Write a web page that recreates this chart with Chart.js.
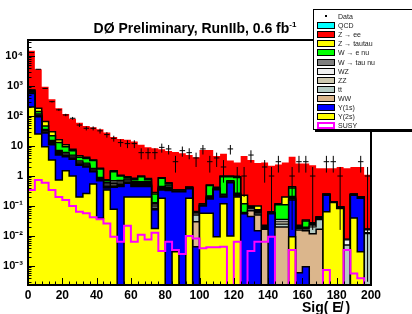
<!DOCTYPE html>
<html lang="en">
<head>
  <meta charset="UTF-8">
  <title>Sig(MET) - DØ Preliminary</title>
  <script src="https://cdn.jsdelivr.net/npm/chart.js"></script>
  <style>
    body {
      margin: 0;
      background: #fff;
      font-family: 'Liberation Sans', Arial, Helvetica, sans-serif;
    }
    .wrap {
      position: relative;
      width: 412px;
      height: 314px;
      overflow: hidden;
    }
    #title {
      position: absolute;
      left: 0;
      width: 390px;
      top: 20px;
      text-align: center;
      font-weight: bold;
      font-size: 14px;
      color: #000;
    }
    #title sup { font-size: 8px; }
    #xtitle {
      position: absolute;
      left: 302px;
      top: 299px;
      font-weight: bold;
      font-size: 14px;
    }
    #legend {
      position: absolute;
      left: 313px;
      top: 9px;
      width: 120px;
      height: 119px;
      background: #fff;
      border: 1px solid #000;
      box-shadow: 2px 2px 0 #000;
    }
    #legend .row {
      position: absolute;
      left: 0;
      height: 9px;
      width: 100%;
    }
    #legend .sw {
      position: absolute;
      left: 3px;
      top: 1px;
      width: 16px;
      height: 5px;
      border: 1px solid #000;
    }
    #legend .dot {
      position: absolute;
      left: 11px;
      top: 3px;
      width: 2px;
      height: 2px;
      background: #000;
    }
    #legend .txt {
      position: absolute;
      left: 24px;
      top: 0;
      font-size: 7px;
      line-height: 9px;
      color: #222;
      white-space: nowrap;
    }
  </style>
</head>
<body>
  <div class="wrap">
    <canvas id="sigChart" width="412" height="314"></canvas>
    <div id="title">DØ Preliminary, RunIIb, 0.6 fb<sup>-1</sup></div>
    <div id="xtitle">Sig( E&#x338; )</div>
    <div id="legend"></div>
  </div>

  <script>
    // bin lower edges (width 4)
    const binLo = [0, 4, 8, 12, 16, 20, 24, 28, 32, 36,
      40, 44, 48, 52, 56, 60, 64, 68, 72, 76,
      80, 84, 88, 92, 96, 100, 104, 108, 112, 116,
      120, 124, 128, 132, 136, 140, 144, 148, 152, 156,
      160, 164, 168, 172, 176, 180, 184, 188, 192, 196];

    // stack tops (cumulative, bottom layer first)
    const y2sTop = [200, 25, 9.5, 3.4, 0.74, 1.5, 1.0, 0.2, 0.26, 0.54,
      0.039, 0.34, 0.078, 0, 0.2, 0.2, 0.2, 0.2, 0.018, 0.18,
      0, 0.003, 0, 0.18, 0, 0.057, 0.057, 0.0095, 0.12, 0.01,
      0.2, 0, 0, 0, 0, 0, 0, 0, 0.0095, 0,
      0, 0, 0, 0.065, 0.13, 0.083, 0, 0.04, 0.003, 0];
    const y1sTop = [560, 95, 27, 11, 5, 4.4, 3.6, 2.3, 2.0, 1.4,
      0.7, 0.4, 0.42, 0.45, 0.57, 0.45, 0.45, 0.45, 0.075, 0.34,
      0.33, 0.3, 0.3, 0.38, 0.0044, 0.1, 0.17, 0.35, 0.2, 0.6,
      0.22, 0.055, 0.045, 0.015, 0, 0.055, 0, 0, 0.16, 0.0006,
      0.00095, 0, 0, 0.23, 0.13, 0.09, 0, 0.23, 0.18, 0];
    const wwTop = [575, 98, 28, 11.5, 5.3, 4.6, 3.8, 2.4, 2.1, 1.45,
      0.73, 0.42, 0.45, 0.48, 0.6, 0.48, 0.48, 0.48, 0.085, 0.36,
      0.35, 0.31, 0.31, 0.39, 0.03, 0.103, 0.18, 0.36, 0.21, 0.62,
      0.23, 0.057, 0.07, 0.05, 0.017, 0.057, 0.02, 0.02, 0.17, 0.016,
      0.015, 0.012, 0.017, 0.235, 0.133, 0.092, 0, 0.235, 0.185, 0];
    const ttTop = [590, 101, 29, 12, 5.6, 4.8, 4.0, 2.55, 2.2, 1.5,
      0.76, 0.45, 0.5, 0.53, 0.64, 0.52, 0.52, 0.52, 0.1, 0.38,
      0.38, 0.32, 0.32, 0.4, 0.05, 0.106, 0.19, 0.37, 0.22, 0.64,
      0.24, 0.059, 0.08, 0.055, 0.018, 0.059, 0.025, 0.025, 0.18, 0.018,
      0.017, 0.02, 0.035, 0.24, 0.135, 0.093, 0.005, 0.24, 0.19, 0.012];
    const zzTop = [610, 105, 31, 13, 6.0, 5.1, 4.3, 2.7, 2.35, 1.6,
      0.8, 0.5, 0.56, 0.58, 0.69, 0.56, 0.56, 0.56, 0.11, 0.4,
      0.42, 0.325, 0.325, 0.405, 0.055, 0.11, 0.2, 0.38, 0.23, 0.66,
      0.25, 0.06, 0.085, 0.06, 0.019, 0.06, 0.03, 0.03, 0.19, 0.019,
      0.018, 0.022, 0.038, 0.243, 0.137, 0.094, 0.005, 0.243, 0.193, 0.013];
    const wzTop = [630, 110, 33, 14, 6.5, 5.5, 4.6, 2.9, 2.5, 1.7,
      0.84, 0.55, 0.62, 0.64, 0.74, 0.6, 0.6, 0.6, 0.12, 0.42,
      0.46, 0.33, 0.33, 0.41, 0.06, 0.113, 0.21, 0.39, 0.24, 0.68,
      0.26, 0.061, 0.09, 0.065, 0.02, 0.061, 0.035, 0.035, 0.2, 0.02,
      0.019, 0.024, 0.04, 0.245, 0.138, 0.094, 0.0075, 0.245, 0.195, 0.016];
    const wtaunuTop = [660, 118, 36, 15.5, 7.2, 6.1, 5.0, 3.2, 2.7, 1.8,
      0.9, 0.6, 0.7, 0.72, 0.8, 0.65, 0.65, 0.65, 0.13, 0.45,
      0.5, 0.335, 0.335, 0.415, 0.062, 0.115, 0.22, 0.4, 0.25, 0.7,
      0.27, 0.062, 0.095, 0.07, 0.021, 0.062, 0.036, 0.036, 0.21, 0.021,
      0.02, 0.026, 0.042, 0.247, 0.139, 0.094, 0.0077, 0.247, 0.197, 0.017];
    const wenuTop = [700, 140, 46, 22, 13, 9.5, 7.0, 4.2, 3.8, 3.3,
      1.7, 0.7, 1.4, 1.0, 0.9, 0.75, 0.95, 0.75, 0.25, 0.85,
      0.55, 0.34, 0.34, 0.42, 0.064, 0.118, 0.48, 0.41, 0.95, 0.95,
      0.9, 0.12, 0.097, 0.075, 0.022, 0.064, 0.11, 0.11, 0.4, 0.022,
      0.032, 0.027, 0.043, 0.249, 0.14, 0.095, 0.0077, 0.249, 0.199, 0.017];
    const ztautauTop = [740, 180, 65, 30, 16, 11, 7.8, 4.7, 4.2, 3.4,
      1.8, 0.75, 1.5, 1.07, 0.95, 0.85, 1.0, 0.83, 0.28, 0.88,
      0.6, 0.345, 0.345, 0.43, 0.066, 0.12, 0.5, 0.42, 1.0, 1.0,
      0.95, 0.23, 0.1, 0.1, 0.023, 0.065, 0.12, 0.2, 0.44, 0.023,
      0.034, 0.028, 0.044, 0.25, 0.14, 0.095, 0.0077, 0.25, 0.2, 0.017];
    const zeeTop = [15000, 3600, 950, 360, 180, 117, 81, 60, 46, 42,
      36, 28, 20, 17, 16, 14, 11, 9, 8.4, 7.8,
      6.8, 6.3, 5.7, 5.0, 4.2, 7.4, 7.4, 4.6, 5.5, 3.3,
      2.8, 4.6, 3.4, 2.7, 2.8, 2.2, 2.4, 2.8, 4.4, 2.6,
      2.6, 2.3, 1.8, 1.8, 1.8, 2.0, 1.8, 2.0, 2.0, 1.1];

    const susy = [0.34, 0.74, 0.6, 0.34, 0.2, 0.16, 0.1, 0.065, 0.057, 0.042,
      0.036, 0.026, 0.0095, 0.0065, 0.022, 0.0065, 0.011, 0.0077, 0.013, 0.0032,
      0.0065, 0.0034, 0.0025, 0.01, 0.0083, 0.0039, 0.0042, 0.0042, 0.0044, 0,
      0.0065, 0, 0.0032, 0.0065, 0.0065, 0.0095, 0, 0, 0.0034, 0,
      0, 0, 0, 0.00074, 0, 0, 0.0034, 0.00057, 0.00039, 0];

    const dataCounts = [13000, 3600, 830, 300, 160, 108, 84, 50, 39, 39,
      32, 24, 18, 13, 12, 12, 6, 6, 6, 9,
      8, 3, 7, 6, 4, 8, 3, 4, 2, 8,
      1, 1, 5, 0, 2, 1, 3, 0, 1, 3,
      3, 1, 0, 3, 3, 1, 0, 0, 3, 1];
    const dataLo = [12880, 3540, 800, 283, 147, 98, 75, 43, 33, 33,
      26, 19, 14, 9.4, 8.5, 8.5, 3.6, 3.6, 3.6, 6,
      5.2, 1.3, 4.4, 3.6, 2, 5.2, 1.3, 2, 0.6, 5.2,
      0.2, 0.2, 2.8, null, 0.6, 0.06, 1.3, null, 0.016, 1.3,
      1.3, 0.016, null, 1.3, 1.3, 0.016, null, null, 1.3, 0.0003];
    const dataHi = [13120, 3660, 860, 317, 173, 118, 93, 57, 45, 45,
      38, 29, 22, 16.6, 15.5, 15.5, 8.4, 8.4, 8.4, 12,
      10.8, 4.7, 9.6, 8.4, 6, 10.8, 4.7, 6, 3.4, 10.8,
      2, 2, 7.2, null, 3.4, 2, 4.7, null, 2, 4.7,
      4.7, 2, null, 4.7, 4.7, 2, null, null, 4.7, 2];

    const yTickLabels = { 4: '10⁴', 3: '10³', 2: '10²', 1: '10', 0: '1', '-1': '10⁻¹', '-2': '10⁻²', '-3': '10⁻³' };

    const Y_MIN = 2.34e-4, Y_MAX = 3.4e4;
    const BIN_W = 4;

    // stepped histogram outline from bin values
    function steps(vals) {
      const pts = binLo.map((x, i) => ({ x: x, y: vals[i] > 0 ? vals[i] : Y_MIN }));
      pts.push({ x: binLo[binLo.length - 1] + BIN_W, y: pts[pts.length - 1].y });
      return pts;
    }

    // data crosses: bin-width bar + error bar, separated by gaps
    const dataPts = [];
    binLo.forEach((x, i) => {
      if (!dataCounts[i]) return;
      const c = x + BIN_W / 2;
      dataPts.push({ x: x + 0.4, y: dataCounts[i] }, { x: x + BIN_W - 0.4, y: dataCounts[i] }, { x: c, y: null });
      dataPts.push({ x: c, y: dataLo[i] }, { x: c, y: dataHi[i] }, { x: c, y: null });
    });

    const layers = [
      { label: 'Z → ee', top: zeeTop, color: '#ff0000', bw: 0 },
      { label: 'Z → tautau', top: ztautauTop, color: '#ffff00', bw: 1.5 },
      { label: 'W → e nu', top: wenuTop, color: '#00ff00', bw: 1.5 },
      { label: 'W → tau nu', top: wtaunuTop, color: '#7f7f7f', bw: 1.2 },
      { label: 'WZ', top: wzTop, color: '#f0f0f0', bw: 1.2 },
      { label: 'ZZ', top: zzTop, color: '#cdc8b0', bw: 1.2 },
      { label: 'tt', top: ttTop, color: '#b4cbc4', bw: 1.2 },
      { label: 'WW', top: wwTop, color: '#dbb68c', bw: 1.5 },
      { label: 'Y(1s)', top: y1sTop, color: '#0000ff', bw: 1.5 },
      { label: 'Y(2s)', top: y2sTop, color: '#ffff00', bw: 1.5 }
    ];

    const datasets = layers.map((l, i) => ({
      label: l.label,
      data: steps(l.top),
      stepped: true,
      fill: 'start',
      backgroundColor: l.color,
      borderColor: l.bw ? '#000' : l.color,
      borderWidth: l.bw,
      pointRadius: 0,
      order: 20 - i
    }));

    datasets.push({
      label: 'SUSY',
      data: steps(susy),
      stepped: true,
      fill: false,
      borderColor: '#ff00ff',
      borderWidth: 2,
      pointRadius: 0,
      order: 1
    });

    datasets.push({
      label: 'Data',
      data: dataPts,
      fill: false,
      spanGaps: false,
      borderColor: '#000',
      borderWidth: 1,
      pointRadius: 0,
      order: 0
    });

    // ROOT-like frame with inward ticks
    const framePlugin = {
      id: 'frame',
      afterDraw(chart) {
        const { ctx, chartArea: a, scales: { x, y } } = chart;
        ctx.save();
        ctx.strokeStyle = '#000';
        ctx.lineWidth = 1;
        ctx.beginPath();
        for (let v = 0; v <= 200; v += 4) {
          const px = Math.round(x.getPixelForValue(v)) + 0.5;
          const len = v % 20 === 0 ? 7 : 3.5;
          ctx.moveTo(px, a.bottom);
          ctx.lineTo(px, a.bottom - len);
        }
        for (let e = -4; e <= 4; e++) {
          for (let k = 1; k < 10; k++) {
            const v = k * Math.pow(10, e);
            if (v < Y_MIN || v > Y_MAX) continue;
            const py = Math.round(y.getPixelForValue(v)) + 0.5;
            const len = k === 1 ? 7 : 3.5;
            ctx.moveTo(a.left, py);
            ctx.lineTo(a.left + len, py);
          }
        }
        ctx.stroke();
        ctx.lineWidth = 2;
        ctx.strokeRect(a.left, a.top, a.right - a.left, a.bottom - a.top);
        ctx.restore();
      }
    };

    const tickFont = { family: "'Liberation Sans', Arial, sans-serif", weight: 'bold' };

    new Chart(document.getElementById('sigChart'), {
      type: 'line',
      data: { datasets: datasets },
      options: {
        responsive: false,
        animation: false,
        layout: { padding: { left: 0, right: 41, top: 40, bottom: 0 } },
        plugins: {
          legend: { display: false },
          tooltip: { enabled: false }
        },
        scales: {
          x: {
            type: 'linear',
            min: 0,
            max: 200,
            offset: false,
            grid: { display: false, drawTicks: false },
            border: { display: false },
            ticks: {
              stepSize: 20,
              autoSkip: false,
              maxRotation: 0,
              padding: 3,
              color: '#000',
              font: Object.assign({ size: 12 }, tickFont)
            },
            afterFit(s) { s.height = 29; }
          },
          y: {
            type: 'logarithmic',
            min: Y_MIN,
            max: Y_MAX,
            grid: { display: false, drawTicks: false },
            border: { display: false },
            ticks: {
              autoSkip: false,
              padding: 5,
              color: '#000',
              font: Object.assign({ size: 11 }, tickFont),
              callback(value) {
                const e = Math.log10(value);
                const r = Math.round(e);
                if (Math.abs(e - r) > 1e-6) return '';
                return yTickLabels[r] !== undefined ? yTickLabels[r] : '';
              }
            },
            afterFit(s) { s.width = 28; }
          }
        }
      },
      plugins: [framePlugin]
    });

    // ROOT-style legend box
    const legendItems = [
      { label: 'Data', dot: true },
      { label: 'QCD', color: '#00ffff' },
      { label: 'Z → ee', color: '#ff0000' },
      { label: 'Z → tautau', color: '#ffff00' },
      { label: 'W → e nu', color: '#00ff00' },
      { label: 'W → tau nu', color: '#7f7f7f' },
      { label: 'WZ', color: '#f0f0f0' },
      { label: 'ZZ', color: '#cdc8b0' },
      { label: 'tt', color: '#b4cbc4' },
      { label: 'WW', color: '#dbb68c' },
      { label: 'Y(1s)', color: '#0000ff' },
      { label: 'Y(2s)', color: '#ffff00' },
      { label: 'SUSY', outline: '#ff00ff' }
    ];
    const legend = document.getElementById('legend');
    legendItems.forEach((it, i) => {
      const row = document.createElement('div');
      row.className = 'row';
      row.style.top = (2 + i * 9.1) + 'px';
      let mark;
      if (it.dot) {
        mark = '<span class="dot"></span>';
      } else if (it.outline) {
        mark = `<span class="sw" style="background:#fff;border:2px solid ${it.outline};width:14px;height:3px;"></span>`;
      } else {
        mark = `<span class="sw" style="background:${it.color}"></span>`;
      }
      row.innerHTML = mark + `<span class="txt">${it.label}</span>`;
      legend.appendChild(row);
    });
  </script>
</body>
</html>
